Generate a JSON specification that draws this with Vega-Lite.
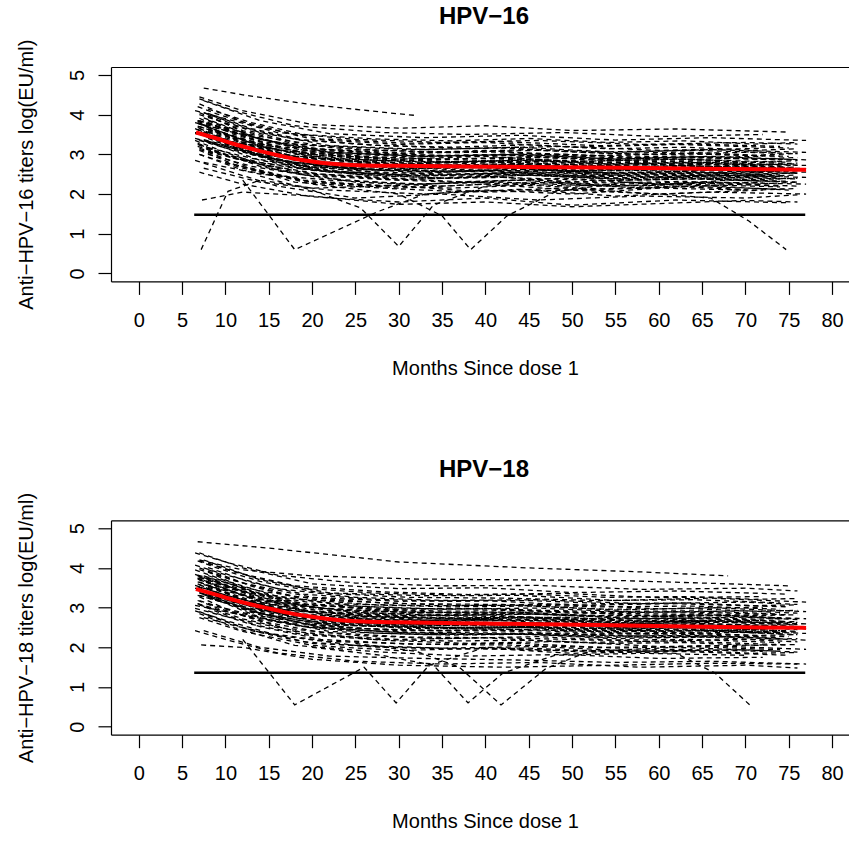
{
"$schema": "https://vega.github.io/schema/vega-lite/v6.json",
"background": "white",
"padding": {"left": 15, "top": 5, "right": 0, "bottom": 0},
"config": {"view": {"stroke": null}, "font": "Liberation Sans",
 "axis": {"domainColor": "black", "tickColor": "black", "labelColor": "black", "titleColor": "black", "grid": false, "labelFontSize": 20, "titleFontSize": 20, "titleFontWeight": "normal", "tickSize": 13, "domainWidth": 1.2, "tickWidth": 1.2, "labelFont": "Liberation Sans", "titleFont": "Liberation Sans", "labelFlush": false, "labelOverlap": false},
 "title": {"fontSize": 24, "font": "Liberation Sans", "fontWeight": "bold", "color": "black", "baseline": "alphabetic", "offset": 10, "dx": 4}},
"datasets": {
"s16": [
{"s":1,"t":7,"y":2.55},{"s":1,"t":12,"y":2.25},{"s":1,"t":20,"y":1.93},{"s":1,"t":30,"y":1.8},{"s":1,"t":40,"y":1.9},{"s":1,"t":50,"y":1.72},{"s":1,"t":62,"y":1.85},{"s":1,"t":75,"y":1.78},
{"s":2,"t":6.5,"y":2.85},{"s":2,"t":10,"y":2.6},{"s":2,"t":16,"y":2.2},{"s":2,"t":25,"y":1.9},{"s":2,"t":35,"y":2.0},{"s":2,"t":46,"y":1.85},{"s":2,"t":58,"y":1.95},{"s":2,"t":70,"y":1.9},{"s":2,"t":76,"y":1.98},
{"s":3,"t":7.5,"y":2.65},{"s":3,"t":14,"y":2.3},{"s":3,"t":22,"y":2.1},{"s":3,"t":33,"y":2.0},{"s":3,"t":44,"y":2.12},{"s":3,"t":55,"y":1.95},{"s":3,"t":66,"y":2.05},{"s":3,"t":77,"y":2.0},
{"s":4,"t":7,"y":3.1},{"s":4,"t":11,"y":2.75},{"s":4,"t":18,"y":2.3},{"s":4,"t":28,"y":2.15},{"s":4,"t":38,"y":2.05},{"s":4,"t":49,"y":2.15},{"s":4,"t":60,"y":2.0},{"s":4,"t":72,"y":2.1},
{"s":5,"t":7,"y":3.0},{"s":5,"t":12,"y":2.65},{"s":5,"t":20,"y":2.3},{"s":5,"t":30,"y":2.15},{"s":5,"t":40,"y":2.25},{"s":5,"t":50,"y":2.1},{"s":5,"t":62,"y":2.2},{"s":5,"t":75,"y":2.12},
{"s":6,"t":6.5,"y":3.35},{"s":6,"t":10,"y":3.05},{"s":6,"t":16,"y":2.6},{"s":6,"t":25,"y":2.3},{"s":6,"t":35,"y":2.2},{"s":6,"t":46,"y":2.3},{"s":6,"t":58,"y":2.15},{"s":6,"t":70,"y":2.25},{"s":6,"t":76,"y":2.2},
{"s":7,"t":7.5,"y":2.8},{"s":7,"t":14,"y":2.5},{"s":7,"t":22,"y":2.35},{"s":7,"t":33,"y":2.25},{"s":7,"t":44,"y":2.35},{"s":7,"t":55,"y":2.2},{"s":7,"t":66,"y":2.3},{"s":7,"t":77,"y":2.25},
{"s":8,"t":7,"y":3.25},{"s":8,"t":11,"y":2.9},{"s":8,"t":18,"y":2.55},{"s":8,"t":28,"y":2.4},{"s":8,"t":38,"y":2.3},{"s":8,"t":49,"y":2.4},{"s":8,"t":60,"y":2.25},{"s":8,"t":72,"y":2.3},
{"s":9,"t":7,"y":3.15},{"s":9,"t":12,"y":2.85},{"s":9,"t":20,"y":2.5},{"s":9,"t":30,"y":2.35},{"s":9,"t":40,"y":2.45},{"s":9,"t":50,"y":2.3},{"s":9,"t":62,"y":2.4},{"s":9,"t":75,"y":2.32},
{"s":10,"t":6.5,"y":3.65},{"s":10,"t":10,"y":3.3},{"s":10,"t":16,"y":2.8},{"s":10,"t":25,"y":2.5},{"s":10,"t":35,"y":2.4},{"s":10,"t":46,"y":2.48},{"s":10,"t":58,"y":2.35},{"s":10,"t":70,"y":2.42},{"s":10,"t":76,"y":2.38},
{"s":11,"t":7.5,"y":3.35},{"s":11,"t":14,"y":2.85},{"s":11,"t":22,"y":2.55},{"s":11,"t":33,"y":2.45},{"s":11,"t":44,"y":2.55},{"s":11,"t":55,"y":2.4},{"s":11,"t":66,"y":2.48},{"s":11,"t":77,"y":2.42},
{"s":12,"t":7,"y":3.12},{"s":12,"t":11,"y":2.9},{"s":12,"t":18,"y":2.65},{"s":12,"t":28,"y":2.5},{"s":12,"t":38,"y":2.45},{"s":12,"t":49,"y":2.55},{"s":12,"t":60,"y":2.42},{"s":12,"t":72,"y":2.48},
{"s":13,"t":7,"y":3.55},{"s":13,"t":12,"y":3.1},{"s":13,"t":20,"y":2.68},{"s":13,"t":30,"y":2.5},{"s":13,"t":40,"y":2.6},{"s":13,"t":50,"y":2.45},{"s":13,"t":62,"y":2.52},{"s":13,"t":75,"y":2.45},
{"s":14,"t":6.5,"y":3.4},{"s":14,"t":10,"y":3.2},{"s":14,"t":16,"y":2.85},{"s":14,"t":25,"y":2.62},{"s":14,"t":35,"y":2.55},{"s":14,"t":46,"y":2.6},{"s":14,"t":58,"y":2.5},{"s":14,"t":70,"y":2.55},{"s":14,"t":76,"y":2.52},
{"s":15,"t":7.5,"y":3.57},{"s":15,"t":14,"y":3.05},{"s":15,"t":22,"y":2.7},{"s":15,"t":33,"y":2.6},{"s":15,"t":44,"y":2.65},{"s":15,"t":55,"y":2.52},{"s":15,"t":66,"y":2.6},{"s":15,"t":77,"y":2.55},
{"s":16,"t":7,"y":3.35},{"s":16,"t":11,"y":3.1},{"s":16,"t":18,"y":2.8},{"s":16,"t":28,"y":2.6},{"s":16,"t":38,"y":2.7},{"s":16,"t":49,"y":2.58},{"s":16,"t":60,"y":2.62},{"s":16,"t":72,"y":2.55},
{"s":17,"t":7,"y":3.78},{"s":17,"t":12,"y":3.3},{"s":17,"t":20,"y":2.82},{"s":17,"t":30,"y":2.65},{"s":17,"t":40,"y":2.72},{"s":17,"t":50,"y":2.6},{"s":17,"t":62,"y":2.65},{"s":17,"t":75,"y":2.58},
{"s":18,"t":6.5,"y":3.55},{"s":18,"t":10,"y":3.3},{"s":18,"t":16,"y":2.95},{"s":18,"t":25,"y":2.72},{"s":18,"t":35,"y":2.65},{"s":18,"t":46,"y":2.72},{"s":18,"t":58,"y":2.6},{"s":18,"t":70,"y":2.66},{"s":18,"t":76,"y":2.62},
{"s":19,"t":7.5,"y":3.37},{"s":19,"t":14,"y":3.0},{"s":19,"t":22,"y":2.78},{"s":19,"t":33,"y":2.7},{"s":19,"t":44,"y":2.75},{"s":19,"t":55,"y":2.62},{"s":19,"t":66,"y":2.7},{"s":19,"t":77,"y":2.64},
{"s":20,"t":7,"y":3.65},{"s":20,"t":11,"y":3.3},{"s":20,"t":18,"y":2.95},{"s":20,"t":28,"y":2.78},{"s":20,"t":38,"y":2.7},{"s":20,"t":49,"y":2.75},{"s":20,"t":60,"y":2.65},{"s":20,"t":72,"y":2.7},
{"s":21,"t":7,"y":3.78},{"s":21,"t":12,"y":3.35},{"s":21,"t":20,"y":2.9},{"s":21,"t":30,"y":2.75},{"s":21,"t":40,"y":2.82},{"s":21,"t":50,"y":2.7},{"s":21,"t":62,"y":2.76},{"s":21,"t":75,"y":2.68},
{"s":22,"t":6.5,"y":3.55},{"s":22,"t":10,"y":3.35},{"s":22,"t":16,"y":3.0},{"s":22,"t":25,"y":2.82},{"s":22,"t":35,"y":2.75},{"s":22,"t":46,"y":2.82},{"s":22,"t":58,"y":2.7},{"s":22,"t":70,"y":2.75},{"s":22,"t":76,"y":2.72},
{"s":23,"t":7.5,"y":3.73},{"s":23,"t":14,"y":3.2},{"s":23,"t":22,"y":2.9},{"s":23,"t":33,"y":2.8},{"s":23,"t":44,"y":2.85},{"s":23,"t":55,"y":2.75},{"s":23,"t":66,"y":2.8},{"s":23,"t":77,"y":2.72},
{"s":24,"t":7,"y":3.91},{"s":24,"t":11,"y":3.5},{"s":24,"t":18,"y":3.08},{"s":24,"t":28,"y":2.88},{"s":24,"t":38,"y":2.8},{"s":24,"t":49,"y":2.85},{"s":24,"t":60,"y":2.75},{"s":24,"t":72,"y":2.8},
{"s":25,"t":7,"y":3.7},{"s":25,"t":12,"y":3.35},{"s":25,"t":20,"y":3.0},{"s":25,"t":30,"y":2.88},{"s":25,"t":40,"y":2.95},{"s":25,"t":50,"y":2.82},{"s":25,"t":62,"y":2.88},{"s":25,"t":75,"y":2.8},
{"s":26,"t":6.5,"y":3.53},{"s":26,"t":10,"y":3.35},{"s":26,"t":16,"y":3.1},{"s":26,"t":25,"y":2.95},{"s":26,"t":35,"y":2.88},{"s":26,"t":46,"y":2.92},{"s":26,"t":58,"y":2.85},{"s":26,"t":70,"y":2.9},{"s":26,"t":76,"y":2.86},
{"s":27,"t":7.5,"y":3.92},{"s":27,"t":14,"y":3.38},{"s":27,"t":22,"y":3.05},{"s":27,"t":33,"y":2.95},{"s":27,"t":44,"y":3.0},{"s":27,"t":55,"y":2.88},{"s":27,"t":66,"y":2.95},{"s":27,"t":77,"y":2.86},
{"s":28,"t":7,"y":3.85},{"s":28,"t":11,"y":3.55},{"s":28,"t":18,"y":3.18},{"s":28,"t":28,"y":3.02},{"s":28,"t":38,"y":2.95},{"s":28,"t":49,"y":3.0},{"s":28,"t":60,"y":2.9},{"s":28,"t":72,"y":2.95},
{"s":29,"t":7,"y":4.05},{"s":29,"t":12,"y":3.6},{"s":29,"t":20,"y":3.15},{"s":29,"t":30,"y":3.02},{"s":29,"t":40,"y":3.1},{"s":29,"t":50,"y":2.95},{"s":29,"t":62,"y":3.02},{"s":29,"t":75,"y":2.95},
{"s":30,"t":6.5,"y":3.8},{"s":30,"t":10,"y":3.6},{"s":30,"t":16,"y":3.3},{"s":30,"t":25,"y":3.12},{"s":30,"t":35,"y":3.05},{"s":30,"t":46,"y":3.1},{"s":30,"t":58,"y":3.0},{"s":30,"t":70,"y":3.05},{"s":30,"t":76,"y":3.02},
{"s":31,"t":7.5,"y":4.05},{"s":31,"t":14,"y":3.55},{"s":31,"t":22,"y":3.22},{"s":31,"t":33,"y":3.12},{"s":31,"t":44,"y":3.18},{"s":31,"t":55,"y":3.05},{"s":31,"t":66,"y":3.12},{"s":31,"t":77,"y":3.05},
{"s":32,"t":7,"y":4.0},{"s":32,"t":11,"y":3.72},{"s":32,"t":18,"y":3.38},{"s":32,"t":28,"y":3.22},{"s":32,"t":38,"y":3.15},{"s":32,"t":49,"y":3.2},{"s":32,"t":60,"y":3.1},{"s":32,"t":72,"y":3.15},
{"s":33,"t":7,"y":4.27},{"s":33,"t":12,"y":3.82},{"s":33,"t":20,"y":3.38},{"s":33,"t":30,"y":3.25},{"s":33,"t":40,"y":3.3},{"s":33,"t":50,"y":3.18},{"s":33,"t":62,"y":3.25},{"s":33,"t":75,"y":3.16},
{"s":34,"t":6.5,"y":4.1},{"s":34,"t":10,"y":3.9},{"s":34,"t":16,"y":3.55},{"s":34,"t":25,"y":3.38},{"s":34,"t":35,"y":3.3},{"s":34,"t":46,"y":3.35},{"s":34,"t":58,"y":3.25},{"s":34,"t":70,"y":3.3},{"s":34,"t":76,"y":3.26},
{"s":35,"t":7.5,"y":4.35},{"s":35,"t":14,"y":3.85},{"s":35,"t":22,"y":3.52},{"s":35,"t":33,"y":3.42},{"s":35,"t":44,"y":3.48},{"s":35,"t":55,"y":3.36},{"s":35,"t":66,"y":3.42},{"s":35,"t":77,"y":3.35},
{"s":36,"t":7,"y":4.4},{"s":36,"t":11,"y":4.1},{"s":36,"t":18,"y":3.72},{"s":36,"t":28,"y":3.55},{"s":36,"t":38,"y":3.5},{"s":36,"t":49,"y":3.55},{"s":36,"t":60,"y":3.45},{"s":36,"t":72,"y":3.5},
{"s":37,"t":7,"y":4.45},{"s":37,"t":12,"y":4.1},{"s":37,"t":20,"y":3.75},{"s":37,"t":30,"y":3.66},{"s":37,"t":40,"y":3.72},{"s":37,"t":50,"y":3.6},{"s":37,"t":62,"y":3.64},{"s":37,"t":75,"y":3.56},
{"s":38,"t":7.5,"y":4.67},{"s":38,"t":12,"y":4.5},{"s":38,"t":20,"y":4.25},{"s":38,"t":30,"y":4.02},{"s":38,"t":32,"y":3.98},
{"s":39,"t":7.2,"y":0.6},{"s":39,"t":10.3,"y":2.07},{"s":39,"t":14,"y":2.35},{"s":39,"t":20,"y":2.15},{"s":39,"t":28,"y":2.2},{"s":39,"t":38,"y":2.3},{"s":39,"t":50,"y":2.2},{"s":39,"t":62,"y":2.3},{"s":39,"t":74,"y":2.2},
{"s":40,"t":12,"y":2.35},{"s":40,"t":18,"y":0.6},{"s":40,"t":27.5,"y":1.55},{"s":40,"t":33,"y":2.0},{"s":40,"t":40,"y":2.1},{"s":40,"t":50,"y":2.0},{"s":40,"t":60,"y":2.15},{"s":40,"t":70,"y":2.1},
{"s":41,"t":14,"y":2.45},{"s":41,"t":20,"y":2.1},{"s":41,"t":25.6,"y":1.65},{"s":41,"t":30,"y":0.68},{"s":41,"t":34,"y":1.72},{"s":41,"t":40,"y":2.2},{"s":41,"t":48,"y":2.3},{"s":41,"t":58,"y":2.2},{"s":41,"t":68,"y":2.35},{"s":41,"t":76,"y":2.3},
{"s":42,"t":10,"y":2.8},{"s":42,"t":20,"y":2.25},{"s":42,"t":30,"y":2.0},{"s":42,"t":35,"y":1.45},{"s":42,"t":38.3,"y":0.6},{"s":42,"t":42.5,"y":1.45},{"s":42,"t":48,"y":2.05},{"s":42,"t":56,"y":2.3},{"s":42,"t":66,"y":2.2},{"s":42,"t":75,"y":2.1},
{"s":43,"t":7,"y":3.0},{"s":43,"t":12,"y":2.6},{"s":43,"t":20,"y":2.3},{"s":43,"t":30,"y":2.2},{"s":43,"t":40,"y":2.05},{"s":43,"t":50,"y":2.1},{"s":43,"t":60,"y":2.0},{"s":43,"t":66,"y":1.9},{"s":43,"t":70.4,"y":1.32},{"s":43,"t":74.7,"y":0.6},
{"s":44,"t":7.3,"y":1.85},{"s":44,"t":12,"y":2.05},{"s":44,"t":20,"y":1.95},{"s":44,"t":30,"y":1.74},{"s":44,"t":40,"y":1.8},{"s":44,"t":50,"y":1.68},{"s":44,"t":60,"y":1.76},{"s":44,"t":70,"y":1.84},{"s":44,"t":76,"y":1.8},
{"s":45,"t":8,"y":3.05},{"s":45,"t":13,"y":2.65},{"s":45,"t":19,"y":2.35},{"s":45,"t":27,"y":2.22},{"s":45,"t":36,"y":2.15},{"s":45,"t":45,"y":2.22},{"s":45,"t":54,"y":2.12},{"s":45,"t":63,"y":2.18},{"s":45,"t":71,"y":2.1},{"s":45,"t":76,"y":2.14},
{"s":46,"t":6.8,"y":3.28},{"s":46,"t":9,"y":3.08},{"s":46,"t":14,"y":2.7},{"s":46,"t":21,"y":2.4},{"s":46,"t":31,"y":2.25},{"s":46,"t":42,"y":2.3},{"s":46,"t":53,"y":2.2},{"s":46,"t":64,"y":2.24},{"s":46,"t":74,"y":2.18},
{"s":47,"t":8,"y":3.0},{"s":47,"t":13,"y":2.7},{"s":47,"t":19,"y":2.48},{"s":47,"t":27,"y":2.38},{"s":47,"t":36,"y":2.3},{"s":47,"t":45,"y":2.36},{"s":47,"t":54,"y":2.28},{"s":47,"t":63,"y":2.32},{"s":47,"t":71,"y":2.25},{"s":47,"t":76,"y":2.3},
{"s":48,"t":6.8,"y":3.25},{"s":48,"t":9,"y":3.05},{"s":48,"t":14,"y":2.75},{"s":48,"t":21,"y":2.5},{"s":48,"t":31,"y":2.38},{"s":48,"t":42,"y":2.42},{"s":48,"t":53,"y":2.34},{"s":48,"t":64,"y":2.38},{"s":48,"t":74,"y":2.32},
{"s":49,"t":8,"y":3.45},{"s":49,"t":13,"y":3.0},{"s":49,"t":19,"y":2.62},{"s":49,"t":27,"y":2.46},{"s":49,"t":36,"y":2.4},{"s":49,"t":45,"y":2.48},{"s":49,"t":54,"y":2.38},{"s":49,"t":63,"y":2.42},{"s":49,"t":71,"y":2.36},{"s":49,"t":76,"y":2.4},
{"s":50,"t":6.8,"y":3.2},{"s":50,"t":9,"y":3.05},{"s":50,"t":14,"y":2.8},{"s":50,"t":21,"y":2.58},{"s":50,"t":31,"y":2.48},{"s":50,"t":42,"y":2.52},{"s":50,"t":53,"y":2.44},{"s":50,"t":64,"y":2.47},{"s":50,"t":74,"y":2.42},
{"s":51,"t":8,"y":3.4},{"s":51,"t":13,"y":3.0},{"s":51,"t":19,"y":2.7},{"s":51,"t":27,"y":2.56},{"s":51,"t":36,"y":2.5},{"s":51,"t":45,"y":2.56},{"s":51,"t":54,"y":2.46},{"s":51,"t":63,"y":2.5},{"s":51,"t":71,"y":2.44},{"s":51,"t":76,"y":2.48},
{"s":52,"t":6.8,"y":3.68},{"s":52,"t":9,"y":3.45},{"s":52,"t":14,"y":3.05},{"s":52,"t":21,"y":2.7},{"s":52,"t":31,"y":2.56},{"s":52,"t":42,"y":2.6},{"s":52,"t":53,"y":2.5},{"s":52,"t":64,"y":2.54},{"s":52,"t":74,"y":2.48},
{"s":53,"t":8,"y":3.33},{"s":53,"t":13,"y":3.0},{"s":53,"t":19,"y":2.74},{"s":53,"t":27,"y":2.62},{"s":53,"t":36,"y":2.58},{"s":53,"t":45,"y":2.63},{"s":53,"t":54,"y":2.54},{"s":53,"t":63,"y":2.57},{"s":53,"t":71,"y":2.5},{"s":53,"t":76,"y":2.54},
{"s":54,"t":6.8,"y":3.56},{"s":54,"t":9,"y":3.38},{"s":54,"t":14,"y":3.04},{"s":54,"t":21,"y":2.75},{"s":54,"t":31,"y":2.64},{"s":54,"t":42,"y":2.68},{"s":54,"t":53,"y":2.58},{"s":54,"t":64,"y":2.62},{"s":54,"t":74,"y":2.56},
{"s":55,"t":8,"y":3.65},{"s":55,"t":13,"y":3.2},{"s":55,"t":19,"y":2.86},{"s":55,"t":27,"y":2.7},{"s":55,"t":36,"y":2.66},{"s":55,"t":45,"y":2.72},{"s":55,"t":54,"y":2.62},{"s":55,"t":63,"y":2.66},{"s":55,"t":71,"y":2.58},{"s":55,"t":76,"y":2.62},
{"s":56,"t":6.8,"y":3.38},{"s":56,"t":9,"y":3.25},{"s":56,"t":14,"y":3.0},{"s":56,"t":21,"y":2.8},{"s":56,"t":31,"y":2.72},{"s":56,"t":42,"y":2.75},{"s":56,"t":53,"y":2.66},{"s":56,"t":64,"y":2.7},{"s":56,"t":74,"y":2.64},
{"s":57,"t":8,"y":3.57},{"s":57,"t":13,"y":3.2},{"s":57,"t":19,"y":2.9},{"s":57,"t":27,"y":2.77},{"s":57,"t":36,"y":2.72},{"s":57,"t":45,"y":2.78},{"s":57,"t":54,"y":2.68},{"s":57,"t":63,"y":2.72},{"s":57,"t":71,"y":2.65},{"s":57,"t":76,"y":2.68},
{"s":58,"t":6.8,"y":3.8},{"s":58,"t":9,"y":3.6},{"s":58,"t":14,"y":3.22},{"s":58,"t":21,"y":2.9},{"s":58,"t":31,"y":2.78},{"s":58,"t":42,"y":2.82},{"s":58,"t":53,"y":2.72},{"s":58,"t":64,"y":2.76},{"s":58,"t":74,"y":2.7},
{"s":59,"t":8,"y":3.6},{"s":59,"t":13,"y":3.25},{"s":59,"t":19,"y":2.97},{"s":59,"t":27,"y":2.85},{"s":59,"t":36,"y":2.8},{"s":59,"t":45,"y":2.86},{"s":59,"t":54,"y":2.76},{"s":59,"t":63,"y":2.8},{"s":59,"t":71,"y":2.73},{"s":59,"t":76,"y":2.76},
{"s":60,"t":6.8,"y":3.78},{"s":60,"t":9,"y":3.6},{"s":60,"t":14,"y":3.26},{"s":60,"t":21,"y":2.97},{"s":60,"t":31,"y":2.86},{"s":60,"t":42,"y":2.9},{"s":60,"t":53,"y":2.8},{"s":60,"t":64,"y":2.84},{"s":60,"t":74,"y":2.78},
{"s":61,"t":8,"y":3.97},{"s":61,"t":13,"y":3.47},{"s":61,"t":19,"y":3.1},{"s":61,"t":27,"y":2.93},{"s":61,"t":36,"y":2.88},{"s":61,"t":45,"y":2.94},{"s":61,"t":54,"y":2.84},{"s":61,"t":63,"y":2.88},{"s":61,"t":71,"y":2.8},{"s":61,"t":76,"y":2.84},
{"s":62,"t":6.8,"y":3.71},{"s":62,"t":9,"y":3.56},{"s":62,"t":14,"y":3.28},{"s":62,"t":21,"y":3.04},{"s":62,"t":31,"y":2.94},{"s":62,"t":42,"y":2.98},{"s":62,"t":53,"y":2.88},{"s":62,"t":64,"y":2.92},{"s":62,"t":74,"y":2.86},
{"s":63,"t":8,"y":3.86},{"s":63,"t":13,"y":3.45},{"s":63,"t":19,"y":3.14},{"s":63,"t":27,"y":3.01},{"s":63,"t":36,"y":2.96},{"s":63,"t":45,"y":3.02},{"s":63,"t":54,"y":2.92},{"s":63,"t":63,"y":2.96},{"s":63,"t":71,"y":2.88},{"s":63,"t":76,"y":2.92},
{"s":64,"t":6.8,"y":3.85},{"s":64,"t":9,"y":3.7},{"s":64,"t":14,"y":3.38},{"s":64,"t":21,"y":3.13},{"s":64,"t":31,"y":3.03},{"s":64,"t":42,"y":3.06},{"s":64,"t":53,"y":2.97},{"s":64,"t":64,"y":3.01},{"s":64,"t":74,"y":2.95},
{"s":65,"t":8,"y":4.0},{"s":65,"t":13,"y":3.58},{"s":65,"t":19,"y":3.25},{"s":65,"t":27,"y":3.11},{"s":65,"t":36,"y":3.06},{"s":65,"t":45,"y":3.12},{"s":65,"t":54,"y":3.02},{"s":65,"t":63,"y":3.06},{"s":65,"t":71,"y":2.98},{"s":65,"t":76,"y":3.02},
{"s":66,"t":6.8,"y":3.85},{"s":66,"t":9,"y":3.72},{"s":66,"t":14,"y":3.45},{"s":66,"t":21,"y":3.22},{"s":66,"t":31,"y":3.12},{"s":66,"t":42,"y":3.16},{"s":66,"t":53,"y":3.06},{"s":66,"t":64,"y":3.1},{"s":66,"t":74,"y":3.04},
{"s":67,"t":8,"y":4.03},{"s":67,"t":13,"y":3.65},{"s":67,"t":19,"y":3.36},{"s":67,"t":27,"y":3.23},{"s":67,"t":36,"y":3.18},{"s":67,"t":45,"y":3.24},{"s":67,"t":54,"y":3.14},{"s":67,"t":63,"y":3.18},{"s":67,"t":71,"y":3.1},{"s":67,"t":76,"y":3.14},
{"s":68,"t":6.8,"y":4.2},{"s":68,"t":9,"y":4.02},{"s":68,"t":14,"y":3.68},{"s":68,"t":21,"y":3.39},{"s":68,"t":31,"y":3.28},{"s":68,"t":42,"y":3.32},{"s":68,"t":53,"y":3.22},{"s":68,"t":64,"y":3.26},{"s":68,"t":74,"y":3.2},
{"s":69,"t":8,"y":4.14},{"s":69,"t":13,"y":3.8},{"s":69,"t":19,"y":3.5},{"s":69,"t":27,"y":3.39},{"s":69,"t":36,"y":3.34},{"s":69,"t":45,"y":3.4},{"s":69,"t":54,"y":3.3},{"s":69,"t":63,"y":3.34},{"s":69,"t":71,"y":3.26},{"s":69,"t":76,"y":3.3},
{"s":70,"t":6.8,"y":3.63},{"s":70,"t":9,"y":3.4},{"s":70,"t":14,"y":2.98},{"s":70,"t":21,"y":2.6},{"s":70,"t":31,"y":2.46},{"s":70,"t":42,"y":2.5},{"s":70,"t":53,"y":2.4},{"s":70,"t":64,"y":2.44},{"s":70,"t":74,"y":2.38},
{"s":71,"t":8,"y":3.17},{"s":71,"t":13,"y":2.9},{"s":71,"t":19,"y":2.7},{"s":71,"t":27,"y":2.61},{"s":71,"t":36,"y":2.56},{"s":71,"t":45,"y":2.62},{"s":71,"t":54,"y":2.52},{"s":71,"t":63,"y":2.56},{"s":71,"t":71,"y":2.5},{"s":71,"t":76,"y":2.53},
{"s":72,"t":6.8,"y":3.52},{"s":72,"t":9,"y":3.36},{"s":72,"t":14,"y":3.06},{"s":72,"t":21,"y":2.8},{"s":72,"t":31,"y":2.7},{"s":72,"t":42,"y":2.74},{"s":72,"t":53,"y":2.64},{"s":72,"t":64,"y":2.68},{"s":72,"t":74,"y":2.62},
{"s":73,"t":8,"y":3.85},{"s":73,"t":13,"y":3.38},{"s":73,"t":19,"y":3.02},{"s":73,"t":27,"y":2.86},{"s":73,"t":36,"y":2.82},{"s":73,"t":45,"y":2.88},{"s":73,"t":54,"y":2.78},{"s":73,"t":63,"y":2.82},{"s":73,"t":71,"y":2.74},{"s":73,"t":76,"y":2.78},
{"s":74,"t":6.8,"y":3.83},{"s":74,"t":9,"y":3.66},{"s":74,"t":14,"y":3.34},{"s":74,"t":21,"y":3.07},{"s":74,"t":31,"y":2.96},{"s":74,"t":42,"y":3.0},{"s":74,"t":53,"y":2.9},{"s":74,"t":64,"y":2.94},{"s":74,"t":74,"y":2.88}
],
"s18": [
{"s":1,"t":6.5,"y":2.42},{"s":1,"t":10,"y":2.2},{"s":1,"t":16,"y":1.86},{"s":1,"t":25,"y":1.65},{"s":1,"t":35,"y":1.58},{"s":1,"t":46,"y":1.62},{"s":1,"t":58,"y":1.5},{"s":1,"t":70,"y":1.55},{"s":1,"t":76,"y":1.48},
{"s":2,"t":7.5,"y":2.42},{"s":2,"t":14,"y":2.0},{"s":2,"t":22,"y":1.78},{"s":2,"t":33,"y":1.72},{"s":2,"t":44,"y":1.68},{"s":2,"t":55,"y":1.62},{"s":2,"t":66,"y":1.65},{"s":2,"t":77,"y":1.58},
{"s":3,"t":7,"y":2.85},{"s":3,"t":11,"y":2.5},{"s":3,"t":18,"y":2.05},{"s":3,"t":28,"y":1.88},{"s":3,"t":38,"y":1.78},{"s":3,"t":49,"y":1.82},{"s":3,"t":60,"y":1.72},{"s":3,"t":72,"y":1.75},
{"s":4,"t":7,"y":2.75},{"s":4,"t":12,"y":2.4},{"s":4,"t":20,"y":2.05},{"s":4,"t":30,"y":1.92},{"s":4,"t":40,"y":1.98},{"s":4,"t":50,"y":1.85},{"s":4,"t":62,"y":1.9},{"s":4,"t":75,"y":1.8},
{"s":5,"t":6.5,"y":2.92},{"s":5,"t":10,"y":2.68},{"s":5,"t":16,"y":2.3},{"s":5,"t":25,"y":2.05},{"s":5,"t":35,"y":1.98},{"s":5,"t":46,"y":2.02},{"s":5,"t":58,"y":1.9},{"s":5,"t":70,"y":1.94},{"s":5,"t":76,"y":1.88},
{"s":6,"t":7.5,"y":2.75},{"s":6,"t":14,"y":2.38},{"s":6,"t":22,"y":2.15},{"s":6,"t":33,"y":2.08},{"s":6,"t":44,"y":2.1},{"s":6,"t":55,"y":1.98},{"s":6,"t":66,"y":2.04},{"s":6,"t":77,"y":1.95},
{"s":7,"t":7,"y":3.27},{"s":7,"t":11,"y":2.88},{"s":7,"t":18,"y":2.4},{"s":7,"t":28,"y":2.18},{"s":7,"t":38,"y":2.1},{"s":7,"t":49,"y":2.15},{"s":7,"t":60,"y":2.02},{"s":7,"t":72,"y":2.06},
{"s":8,"t":7,"y":3.07},{"s":8,"t":12,"y":2.72},{"s":8,"t":20,"y":2.32},{"s":8,"t":30,"y":2.2},{"s":8,"t":40,"y":2.24},{"s":8,"t":50,"y":2.12},{"s":8,"t":62,"y":2.16},{"s":8,"t":75,"y":2.06},
{"s":9,"t":6.5,"y":2.98},{"s":9,"t":10,"y":2.78},{"s":9,"t":16,"y":2.5},{"s":9,"t":25,"y":2.3},{"s":9,"t":35,"y":2.22},{"s":9,"t":46,"y":2.27},{"s":9,"t":58,"y":2.15},{"s":9,"t":70,"y":2.2},{"s":9,"t":76,"y":2.14},
{"s":10,"t":7.5,"y":3.33},{"s":10,"t":14,"y":2.75},{"s":10,"t":22,"y":2.4},{"s":10,"t":33,"y":2.32},{"s":10,"t":44,"y":2.34},{"s":10,"t":55,"y":2.22},{"s":10,"t":66,"y":2.28},{"s":10,"t":77,"y":2.18},
{"s":11,"t":7,"y":3.18},{"s":11,"t":11,"y":2.9},{"s":11,"t":18,"y":2.55},{"s":11,"t":28,"y":2.4},{"s":11,"t":38,"y":2.32},{"s":11,"t":49,"y":2.36},{"s":11,"t":60,"y":2.24},{"s":11,"t":72,"y":2.28},
{"s":12,"t":7,"y":3.37},{"s":12,"t":12,"y":2.96},{"s":12,"t":20,"y":2.55},{"s":12,"t":30,"y":2.42},{"s":12,"t":40,"y":2.44},{"s":12,"t":50,"y":2.32},{"s":12,"t":62,"y":2.36},{"s":12,"t":75,"y":2.27},
{"s":13,"t":6.5,"y":3.06},{"s":13,"t":10,"y":2.9},{"s":13,"t":16,"y":2.65},{"s":13,"t":25,"y":2.48},{"s":13,"t":35,"y":2.42},{"s":13,"t":46,"y":2.46},{"s":13,"t":58,"y":2.34},{"s":13,"t":70,"y":2.38},{"s":13,"t":76,"y":2.32},
{"s":14,"t":7.5,"y":3.35},{"s":14,"t":14,"y":2.85},{"s":14,"t":22,"y":2.56},{"s":14,"t":33,"y":2.5},{"s":14,"t":44,"y":2.51},{"s":14,"t":55,"y":2.39},{"s":14,"t":66,"y":2.44},{"s":14,"t":77,"y":2.35},
{"s":15,"t":7,"y":3.58},{"s":15,"t":11,"y":3.2},{"s":15,"t":18,"y":2.75},{"s":15,"t":28,"y":2.55},{"s":15,"t":38,"y":2.48},{"s":15,"t":49,"y":2.52},{"s":15,"t":60,"y":2.4},{"s":15,"t":72,"y":2.44},
{"s":16,"t":7,"y":3.31},{"s":16,"t":12,"y":3.0},{"s":16,"t":20,"y":2.66},{"s":16,"t":30,"y":2.56},{"s":16,"t":40,"y":2.58},{"s":16,"t":50,"y":2.47},{"s":16,"t":62,"y":2.5},{"s":16,"t":75,"y":2.42},
{"s":17,"t":6.5,"y":3.49},{"s":17,"t":10,"y":3.25},{"s":17,"t":16,"y":2.87},{"s":17,"t":25,"y":2.63},{"s":17,"t":35,"y":2.55},{"s":17,"t":46,"y":2.58},{"s":17,"t":58,"y":2.47},{"s":17,"t":70,"y":2.52},{"s":17,"t":76,"y":2.45},
{"s":18,"t":7.5,"y":3.42},{"s":18,"t":14,"y":2.95},{"s":18,"t":22,"y":2.68},{"s":18,"t":33,"y":2.62},{"s":18,"t":44,"y":2.63},{"s":18,"t":55,"y":2.5},{"s":18,"t":66,"y":2.56},{"s":18,"t":77,"y":2.47},
{"s":19,"t":7,"y":3.65},{"s":19,"t":11,"y":3.28},{"s":19,"t":18,"y":2.85},{"s":19,"t":28,"y":2.67},{"s":19,"t":38,"y":2.6},{"s":19,"t":49,"y":2.64},{"s":19,"t":60,"y":2.52},{"s":19,"t":72,"y":2.56},
{"s":20,"t":7,"y":3.38},{"s":20,"t":12,"y":3.08},{"s":20,"t":20,"y":2.76},{"s":20,"t":30,"y":2.68},{"s":20,"t":40,"y":2.7},{"s":20,"t":50,"y":2.58},{"s":20,"t":62,"y":2.62},{"s":20,"t":75,"y":2.54},
{"s":21,"t":6.5,"y":3.56},{"s":21,"t":10,"y":3.32},{"s":21,"t":16,"y":2.97},{"s":21,"t":25,"y":2.75},{"s":21,"t":35,"y":2.67},{"s":21,"t":46,"y":2.7},{"s":21,"t":58,"y":2.6},{"s":21,"t":70,"y":2.64},{"s":21,"t":76,"y":2.57},
{"s":22,"t":7.5,"y":3.69},{"s":22,"t":14,"y":3.14},{"s":22,"t":22,"y":2.8},{"s":22,"t":33,"y":2.74},{"s":22,"t":44,"y":2.75},{"s":22,"t":55,"y":2.62},{"s":22,"t":66,"y":2.68},{"s":22,"t":77,"y":2.59},
{"s":23,"t":7,"y":3.52},{"s":23,"t":11,"y":3.25},{"s":23,"t":18,"y":2.92},{"s":23,"t":28,"y":2.79},{"s":23,"t":38,"y":2.72},{"s":23,"t":49,"y":2.76},{"s":23,"t":60,"y":2.64},{"s":23,"t":72,"y":2.68},
{"s":24,"t":7,"y":3.7},{"s":24,"t":12,"y":3.32},{"s":24,"t":20,"y":2.9},{"s":24,"t":30,"y":2.8},{"s":24,"t":40,"y":2.82},{"s":24,"t":50,"y":2.7},{"s":24,"t":62,"y":2.74},{"s":24,"t":75,"y":2.65},
{"s":25,"t":6.5,"y":3.84},{"s":25,"t":10,"y":3.56},{"s":25,"t":16,"y":3.14},{"s":25,"t":25,"y":2.88},{"s":25,"t":35,"y":2.8},{"s":25,"t":46,"y":2.84},{"s":25,"t":58,"y":2.72},{"s":25,"t":70,"y":2.76},{"s":25,"t":76,"y":2.7},
{"s":26,"t":7.5,"y":3.58},{"s":26,"t":14,"y":3.18},{"s":26,"t":22,"y":2.93},{"s":26,"t":33,"y":2.88},{"s":26,"t":44,"y":2.89},{"s":26,"t":55,"y":2.76},{"s":26,"t":66,"y":2.82},{"s":26,"t":77,"y":2.72},
{"s":27,"t":7,"y":3.77},{"s":27,"t":11,"y":3.46},{"s":27,"t":18,"y":3.1},{"s":27,"t":28,"y":2.94},{"s":27,"t":38,"y":2.86},{"s":27,"t":49,"y":2.9},{"s":27,"t":60,"y":2.78},{"s":27,"t":72,"y":2.82},
{"s":28,"t":7,"y":3.76},{"s":28,"t":12,"y":3.42},{"s":28,"t":20,"y":3.06},{"s":28,"t":30,"y":2.96},{"s":28,"t":40,"y":2.98},{"s":28,"t":50,"y":2.86},{"s":28,"t":62,"y":2.9},{"s":28,"t":75,"y":2.82},
{"s":29,"t":6.5,"y":3.95},{"s":29,"t":10,"y":3.68},{"s":29,"t":16,"y":3.28},{"s":29,"t":25,"y":3.04},{"s":29,"t":35,"y":2.96},{"s":29,"t":46,"y":2.99},{"s":29,"t":58,"y":2.88},{"s":29,"t":70,"y":2.92},{"s":29,"t":76,"y":2.86},
{"s":30,"t":7.5,"y":3.8},{"s":30,"t":14,"y":3.36},{"s":30,"t":22,"y":3.1},{"s":30,"t":33,"y":3.05},{"s":30,"t":44,"y":3.06},{"s":30,"t":55,"y":2.94},{"s":30,"t":66,"y":3.0},{"s":30,"t":77,"y":2.9},
{"s":31,"t":7,"y":4.0},{"s":31,"t":11,"y":3.68},{"s":31,"t":18,"y":3.28},{"s":31,"t":28,"y":3.12},{"s":31,"t":38,"y":3.05},{"s":31,"t":49,"y":3.09},{"s":31,"t":60,"y":2.97},{"s":31,"t":72,"y":3.01},
{"s":32,"t":7,"y":3.96},{"s":32,"t":12,"y":3.62},{"s":32,"t":20,"y":3.26},{"s":32,"t":30,"y":3.16},{"s":32,"t":40,"y":3.18},{"s":32,"t":50,"y":3.06},{"s":32,"t":62,"y":3.1},{"s":32,"t":75,"y":3.02},
{"s":33,"t":6.5,"y":4.07},{"s":33,"t":10,"y":3.83},{"s":33,"t":16,"y":3.48},{"s":33,"t":25,"y":3.26},{"s":33,"t":35,"y":3.18},{"s":33,"t":46,"y":3.2},{"s":33,"t":58,"y":3.1},{"s":33,"t":70,"y":3.14},{"s":33,"t":76,"y":3.08},
{"s":34,"t":7.5,"y":4.2},{"s":34,"t":14,"y":3.7},{"s":34,"t":22,"y":3.37},{"s":34,"t":33,"y":3.3},{"s":34,"t":44,"y":3.31},{"s":34,"t":55,"y":3.18},{"s":34,"t":66,"y":3.24},{"s":34,"t":77,"y":3.14},
{"s":35,"t":7,"y":4.18},{"s":35,"t":11,"y":3.9},{"s":35,"t":18,"y":3.55},{"s":35,"t":28,"y":3.4},{"s":35,"t":38,"y":3.33},{"s":35,"t":49,"y":3.36},{"s":35,"t":60,"y":3.25},{"s":35,"t":72,"y":3.28},
{"s":36,"t":7,"y":4.38},{"s":36,"t":12,"y":4.0},{"s":36,"t":20,"y":3.6},{"s":36,"t":30,"y":3.48},{"s":36,"t":40,"y":3.5},{"s":36,"t":50,"y":3.38},{"s":36,"t":62,"y":3.42},{"s":36,"t":75,"y":3.34},
{"s":37,"t":6.5,"y":4.38},{"s":37,"t":10,"y":4.15},{"s":37,"t":16,"y":3.82},{"s":37,"t":25,"y":3.62},{"s":37,"t":35,"y":3.55},{"s":37,"t":46,"y":3.56},{"s":37,"t":58,"y":3.46},{"s":37,"t":70,"y":3.49},{"s":37,"t":76,"y":3.42},
{"s":38,"t":6.8,"y":4.66},{"s":38,"t":15,"y":4.5},{"s":38,"t":30,"y":4.15},{"s":38,"t":45,"y":4.0},{"s":38,"t":58,"y":3.9},{"s":38,"t":68,"y":3.8},
{"s":39,"t":7,"y":4.2},{"s":39,"t":12,"y":3.95},{"s":39,"t":20,"y":3.8},{"s":39,"t":32,"y":3.72},{"s":39,"t":44,"y":3.7},{"s":39,"t":56,"y":3.68},{"s":39,"t":68,"y":3.6},{"s":39,"t":75,"y":3.55},
{"s":40,"t":12,"y":2.2},{"s":40,"t":18,"y":0.55},{"s":40,"t":26,"y":1.5},{"s":40,"t":29.7,"y":0.6},{"s":40,"t":33.5,"y":1.55},{"s":40,"t":40,"y":2.0},{"s":40,"t":50,"y":1.9},{"s":40,"t":62,"y":1.95},{"s":40,"t":72,"y":1.9},
{"s":41,"t":20,"y":2.0},{"s":41,"t":28,"y":1.8},{"s":41,"t":34,"y":1.55},{"s":41,"t":38,"y":0.6},{"s":41,"t":42,"y":1.35},{"s":41,"t":48,"y":1.8},{"s":41,"t":58,"y":1.85},{"s":41,"t":70,"y":1.8},
{"s":42,"t":25,"y":2.1},{"s":42,"t":32,"y":1.9},{"s":42,"t":37,"y":1.5},{"s":42,"t":41.8,"y":0.55},{"s":42,"t":47,"y":1.47},{"s":42,"t":52,"y":1.9},{"s":42,"t":62,"y":2.0},{"s":42,"t":74,"y":1.9},
{"s":43,"t":7,"y":2.9},{"s":43,"t":12,"y":2.5},{"s":43,"t":20,"y":2.1},{"s":43,"t":30,"y":2.0},{"s":43,"t":42,"y":1.95},{"s":43,"t":54,"y":1.9},{"s":43,"t":62,"y":1.85},{"s":43,"t":66.5,"y":1.35},{"s":43,"t":70.5,"y":0.55},
{"s":44,"t":7.2,"y":2.06},{"s":44,"t":12,"y":2.0},{"s":44,"t":20,"y":1.7},{"s":44,"t":30,"y":1.55},{"s":44,"t":42,"y":1.5},{"s":44,"t":55,"y":1.55},{"s":44,"t":66,"y":1.6},{"s":44,"t":76,"y":1.58},
{"s":45,"t":8,"y":2.8},{"s":45,"t":13,"y":2.42},{"s":45,"t":19,"y":2.14},{"s":45,"t":27,"y":2.01},{"s":45,"t":36,"y":1.96},{"s":45,"t":45,"y":1.98},{"s":45,"t":54,"y":1.9},{"s":45,"t":63,"y":1.92},{"s":45,"t":71,"y":1.85},{"s":45,"t":76,"y":1.87},
{"s":46,"t":6.8,"y":3.1},{"s":46,"t":9,"y":2.9},{"s":46,"t":14,"y":2.52},{"s":46,"t":21,"y":2.2},{"s":46,"t":31,"y":2.08},{"s":46,"t":42,"y":2.06},{"s":46,"t":53,"y":2.0},{"s":46,"t":64,"y":2.02},{"s":46,"t":74,"y":1.94},
{"s":47,"t":8,"y":2.92},{"s":47,"t":13,"y":2.58},{"s":47,"t":19,"y":2.32},{"s":47,"t":27,"y":2.2},{"s":47,"t":36,"y":2.16},{"s":47,"t":45,"y":2.18},{"s":47,"t":54,"y":2.1},{"s":47,"t":63,"y":2.12},{"s":47,"t":71,"y":2.05},{"s":47,"t":76,"y":2.07},
{"s":48,"t":6.8,"y":3.18},{"s":48,"t":9,"y":3.0},{"s":48,"t":14,"y":2.66},{"s":48,"t":21,"y":2.38},{"s":48,"t":31,"y":2.26},{"s":48,"t":42,"y":2.24},{"s":48,"t":53,"y":2.18},{"s":48,"t":64,"y":2.2},{"s":48,"t":74,"y":2.12},
{"s":49,"t":8,"y":3.35},{"s":49,"t":13,"y":2.88},{"s":49,"t":19,"y":2.52},{"s":49,"t":27,"y":2.36},{"s":49,"t":36,"y":2.31},{"s":49,"t":45,"y":2.33},{"s":49,"t":54,"y":2.25},{"s":49,"t":63,"y":2.28},{"s":49,"t":71,"y":2.2},{"s":49,"t":76,"y":2.22},
{"s":50,"t":6.8,"y":3.1},{"s":50,"t":9,"y":2.96},{"s":50,"t":14,"y":2.7},{"s":50,"t":21,"y":2.47},{"s":50,"t":31,"y":2.38},{"s":50,"t":42,"y":2.36},{"s":50,"t":53,"y":2.3},{"s":50,"t":64,"y":2.32},{"s":50,"t":74,"y":2.24},
{"s":51,"t":8,"y":3.3},{"s":51,"t":13,"y":2.9},{"s":51,"t":19,"y":2.6},{"s":51,"t":27,"y":2.46},{"s":51,"t":36,"y":2.41},{"s":51,"t":45,"y":2.43},{"s":51,"t":54,"y":2.35},{"s":51,"t":63,"y":2.38},{"s":51,"t":71,"y":2.3},{"s":51,"t":76,"y":2.32},
{"s":52,"t":6.8,"y":3.6},{"s":52,"t":9,"y":3.38},{"s":52,"t":14,"y":2.96},{"s":52,"t":21,"y":2.61},{"s":52,"t":31,"y":2.48},{"s":52,"t":42,"y":2.46},{"s":52,"t":53,"y":2.4},{"s":52,"t":64,"y":2.42},{"s":52,"t":74,"y":2.34},
{"s":53,"t":8,"y":3.25},{"s":53,"t":13,"y":2.92},{"s":53,"t":19,"y":2.66},{"s":53,"t":27,"y":2.55},{"s":53,"t":36,"y":2.5},{"s":53,"t":45,"y":2.52},{"s":53,"t":54,"y":2.44},{"s":53,"t":63,"y":2.46},{"s":53,"t":71,"y":2.39},{"s":53,"t":76,"y":2.41},
{"s":54,"t":6.8,"y":3.48},{"s":54,"t":9,"y":3.3},{"s":54,"t":14,"y":2.96},{"s":54,"t":21,"y":2.67},{"s":54,"t":31,"y":2.56},{"s":54,"t":42,"y":2.54},{"s":54,"t":53,"y":2.48},{"s":54,"t":64,"y":2.5},{"s":54,"t":74,"y":2.42},
{"s":55,"t":8,"y":3.57},{"s":55,"t":13,"y":3.12},{"s":55,"t":19,"y":2.78},{"s":55,"t":27,"y":2.63},{"s":55,"t":36,"y":2.58},{"s":55,"t":45,"y":2.6},{"s":55,"t":54,"y":2.52},{"s":55,"t":63,"y":2.54},{"s":55,"t":71,"y":2.47},{"s":55,"t":76,"y":2.49},
{"s":56,"t":6.8,"y":3.31},{"s":56,"t":9,"y":3.18},{"s":56,"t":14,"y":2.93},{"s":56,"t":21,"y":2.72},{"s":56,"t":31,"y":2.64},{"s":56,"t":42,"y":2.62},{"s":56,"t":53,"y":2.56},{"s":56,"t":64,"y":2.58},{"s":56,"t":74,"y":2.5},
{"s":57,"t":8,"y":3.51},{"s":57,"t":13,"y":3.14},{"s":57,"t":19,"y":2.84},{"s":57,"t":27,"y":2.71},{"s":57,"t":36,"y":2.66},{"s":57,"t":45,"y":2.68},{"s":57,"t":54,"y":2.6},{"s":57,"t":63,"y":2.62},{"s":57,"t":71,"y":2.55},{"s":57,"t":76,"y":2.57},
{"s":58,"t":6.8,"y":3.74},{"s":58,"t":9,"y":3.54},{"s":58,"t":14,"y":3.16},{"s":58,"t":21,"y":2.84},{"s":58,"t":31,"y":2.72},{"s":58,"t":42,"y":2.7},{"s":58,"t":53,"y":2.64},{"s":58,"t":64,"y":2.66},{"s":58,"t":74,"y":2.58},
{"s":59,"t":8,"y":3.54},{"s":59,"t":13,"y":3.18},{"s":59,"t":19,"y":2.91},{"s":59,"t":27,"y":2.79},{"s":59,"t":36,"y":2.74},{"s":59,"t":45,"y":2.76},{"s":59,"t":54,"y":2.68},{"s":59,"t":63,"y":2.7},{"s":59,"t":71,"y":2.63},{"s":59,"t":76,"y":2.65},
{"s":60,"t":6.8,"y":3.72},{"s":60,"t":9,"y":3.54},{"s":60,"t":14,"y":3.2},{"s":60,"t":21,"y":2.91},{"s":60,"t":31,"y":2.8},{"s":60,"t":42,"y":2.78},{"s":60,"t":53,"y":2.72},{"s":60,"t":64,"y":2.74},{"s":60,"t":74,"y":2.66},
{"s":61,"t":8,"y":3.9},{"s":61,"t":13,"y":3.41},{"s":61,"t":19,"y":3.04},{"s":61,"t":27,"y":2.87},{"s":61,"t":36,"y":2.82},{"s":61,"t":45,"y":2.84},{"s":61,"t":54,"y":2.76},{"s":61,"t":63,"y":2.78},{"s":61,"t":71,"y":2.71},{"s":61,"t":76,"y":2.73},
{"s":62,"t":6.8,"y":3.65},{"s":62,"t":9,"y":3.5},{"s":62,"t":14,"y":3.22},{"s":62,"t":21,"y":2.98},{"s":62,"t":31,"y":2.88},{"s":62,"t":42,"y":2.86},{"s":62,"t":53,"y":2.8},{"s":62,"t":64,"y":2.82},{"s":62,"t":74,"y":2.74},
{"s":63,"t":8,"y":3.81},{"s":63,"t":13,"y":3.4},{"s":63,"t":19,"y":3.09},{"s":63,"t":27,"y":2.96},{"s":63,"t":36,"y":2.91},{"s":63,"t":45,"y":2.93},{"s":63,"t":54,"y":2.85},{"s":63,"t":63,"y":2.87},{"s":63,"t":71,"y":2.8},{"s":63,"t":76,"y":2.82},
{"s":64,"t":6.8,"y":3.8},{"s":64,"t":9,"y":3.64},{"s":64,"t":14,"y":3.34},{"s":64,"t":21,"y":3.08},{"s":64,"t":31,"y":2.98},{"s":64,"t":42,"y":2.96},{"s":64,"t":53,"y":2.9},{"s":64,"t":64,"y":2.92},{"s":64,"t":74,"y":2.84},
{"s":65,"t":8,"y":3.96},{"s":65,"t":13,"y":3.54},{"s":65,"t":19,"y":3.21},{"s":65,"t":27,"y":3.07},{"s":65,"t":36,"y":3.02},{"s":65,"t":45,"y":3.04},{"s":65,"t":54,"y":2.96},{"s":65,"t":63,"y":2.98},{"s":65,"t":71,"y":2.91},{"s":65,"t":76,"y":2.93},
{"s":66,"t":6.8,"y":3.82},{"s":66,"t":9,"y":3.68},{"s":66,"t":14,"y":3.42},{"s":66,"t":21,"y":3.19},{"s":66,"t":31,"y":3.1},{"s":66,"t":42,"y":3.08},{"s":66,"t":53,"y":3.02},{"s":66,"t":64,"y":3.04},{"s":66,"t":74,"y":2.96},
{"s":67,"t":8,"y":4.01},{"s":67,"t":13,"y":3.63},{"s":67,"t":19,"y":3.34},{"s":67,"t":27,"y":3.21},{"s":67,"t":36,"y":3.16},{"s":67,"t":45,"y":3.18},{"s":67,"t":54,"y":3.1},{"s":67,"t":63,"y":3.12},{"s":67,"t":71,"y":3.05},{"s":67,"t":76,"y":3.07},
{"s":68,"t":6.8,"y":4.18},{"s":68,"t":9,"y":4.0},{"s":68,"t":14,"y":3.66},{"s":68,"t":21,"y":3.37},{"s":68,"t":31,"y":3.26},{"s":68,"t":42,"y":3.24},{"s":68,"t":53,"y":3.18},{"s":68,"t":64,"y":3.2},{"s":68,"t":74,"y":3.12},
{"s":69,"t":8,"y":4.12},{"s":69,"t":13,"y":3.78},{"s":69,"t":19,"y":3.49},{"s":69,"t":27,"y":3.37},{"s":69,"t":36,"y":3.32},{"s":69,"t":45,"y":3.34},{"s":69,"t":54,"y":3.26},{"s":69,"t":63,"y":3.28},{"s":69,"t":71,"y":3.21},{"s":69,"t":76,"y":3.23},
{"s":70,"t":6.8,"y":3.53},{"s":70,"t":9,"y":3.3},{"s":70,"t":14,"y":2.86},{"s":70,"t":21,"y":2.5},{"s":70,"t":31,"y":2.36},{"s":70,"t":42,"y":2.34},{"s":70,"t":53,"y":2.28},{"s":70,"t":64,"y":2.3},{"s":70,"t":74,"y":2.22},
{"s":71,"t":8,"y":3.09},{"s":71,"t":13,"y":2.82},{"s":71,"t":19,"y":2.62},{"s":71,"t":27,"y":2.53},{"s":71,"t":36,"y":2.48},{"s":71,"t":45,"y":2.5},{"s":71,"t":54,"y":2.42},{"s":71,"t":63,"y":2.44},{"s":71,"t":71,"y":2.37},{"s":71,"t":76,"y":2.39},
{"s":72,"t":6.8,"y":3.44},{"s":72,"t":9,"y":3.28},{"s":72,"t":14,"y":2.98},{"s":72,"t":21,"y":2.72},{"s":72,"t":31,"y":2.62},{"s":72,"t":42,"y":2.6},{"s":72,"t":53,"y":2.54},{"s":72,"t":64,"y":2.56},{"s":72,"t":74,"y":2.48},
{"s":73,"t":8,"y":3.76},{"s":73,"t":13,"y":3.29},{"s":73,"t":19,"y":2.93},{"s":73,"t":27,"y":2.77},{"s":73,"t":36,"y":2.72},{"s":73,"t":45,"y":2.74},{"s":73,"t":54,"y":2.66},{"s":73,"t":63,"y":2.68},{"s":73,"t":71,"y":2.61},{"s":73,"t":76,"y":2.63},
{"s":74,"t":6.8,"y":3.75},{"s":74,"t":9,"y":3.58},{"s":74,"t":14,"y":3.26},{"s":74,"t":21,"y":2.99},{"s":74,"t":31,"y":2.88},{"s":74,"t":42,"y":2.86},{"s":74,"t":53,"y":2.8},{"s":74,"t":64,"y":2.82},{"s":74,"t":74,"y":2.74}
],
"m16": [{"t":6.6,"y":3.55},{"t":9,"y":3.4},{"t":11,"y":3.26},{"t":13,"y":3.14},{"t":15,"y":3.03},{"t":17,"y":2.93},{"t":19,"y":2.85},{"t":21,"y":2.79},{"t":23,"y":2.75},{"t":26,"y":2.72},{"t":30,"y":2.71},{"t":40,"y":2.69},{"t":53,"y":2.67},{"t":65,"y":2.64},{"t":77,"y":2.61}],
"m18": [{"t":6.6,"y":3.47},{"t":9,"y":3.32},{"t":11,"y":3.19},{"t":13,"y":3.08},{"t":15,"y":2.98},{"t":17,"y":2.88},{"t":19,"y":2.8},{"t":21,"y":2.74},{"t":23,"y":2.69},{"t":26,"y":2.65},{"t":30,"y":2.63},{"t":40,"y":2.6},{"t":53,"y":2.56},{"t":65,"y":2.52},{"t":77,"y":2.49}],
"c16": [{"t":6.4,"y":1.48},{"t":76.9,"y":1.48}],
"c18": [{"t":6.4,"y":1.36},{"t":76.9,"y":1.36}]
},
"spacing": 238.3,
"bounds": "flush",
"vconcat": [
{
 "width": 738, "height": 214.4,
 "title": {"text": "HPV−16"},
 "resolve": {"axis": {"x": "independent"}},
 "layer": [
  {"data": {"name": "s16"}, "mark": {"type": "line", "strokeDash": [5, 4], "strokeWidth": 1.3, "color": "black", "clip": true},
   "encoding": {
    "x": {"field": "t", "type": "quantitative", "scale": {"domain": [-3.2, 81.95], "nice": false, "zero": false},
      "axis": {"values": [0,5,10,15,20,25,30,35,40,45,50,55,60,65,70,75,80], "title": "Months Since dose 1", "labelPadding": 16, "titlePadding": 28, "titleX": 374}},
    "y": {"field": "y", "type": "quantitative", "scale": {"domain": [-0.2, 5.2], "nice": false, "zero": false},
      "axis": {"values": [0,1,2,3,4,5], "title": "Anti−HPV−16 titers log(EU/ml)", "labelAngle": 270, "labelAlign": "center", "labelPadding": 11, "titlePadding": 31}},
    "detail": {"field": "s", "type": "nominal"}}},
  {"data": {"name": "m16"}, "mark": {"type": "line", "color": "#FF0000", "strokeWidth": 4, "interpolate": "monotone"},
   "encoding": {"x": {"field": "t", "type": "quantitative", "axis": {"orient": "top", "labels": false, "ticks": false, "title": null, "grid": false}}, "y": {"field": "y", "type": "quantitative"}}},
  {"data": {"name": "c16"}, "mark": {"type": "line", "color": "black", "strokeWidth": 2.5},
   "encoding": {"x": {"field": "t", "type": "quantitative", "axis": null}, "y": {"field": "y", "type": "quantitative"}}}
 ]
},
{
 "width": 738, "height": 214.4,
 "title": {"text": "HPV−18"},
 "resolve": {"axis": {"x": "independent"}},
 "layer": [
  {"data": {"name": "s18"}, "mark": {"type": "line", "strokeDash": [5, 4], "strokeWidth": 1.3, "color": "black", "clip": true},
   "encoding": {
    "x": {"field": "t", "type": "quantitative", "scale": {"domain": [-3.2, 81.95], "nice": false, "zero": false},
      "axis": {"values": [0,5,10,15,20,25,30,35,40,45,50,55,60,65,70,75,80], "title": "Months Since dose 1", "labelPadding": 16, "titlePadding": 28, "titleX": 374}},
    "y": {"field": "y", "type": "quantitative", "scale": {"domain": [-0.2, 5.2], "nice": false, "zero": false},
      "axis": {"values": [0,1,2,3,4,5], "title": "Anti−HPV−18 titers log(EU/ml)", "labelAngle": 270, "labelAlign": "center", "labelPadding": 11, "titlePadding": 31}},
    "detail": {"field": "s", "type": "nominal"}}},
  {"data": {"name": "m18"}, "mark": {"type": "line", "color": "#FF0000", "strokeWidth": 4, "interpolate": "monotone"},
   "encoding": {"x": {"field": "t", "type": "quantitative", "axis": {"orient": "top", "labels": false, "ticks": false, "title": null, "grid": false}}, "y": {"field": "y", "type": "quantitative"}}},
  {"data": {"name": "c18"}, "mark": {"type": "line", "color": "black", "strokeWidth": 2.5},
   "encoding": {"x": {"field": "t", "type": "quantitative", "axis": null}, "y": {"field": "y", "type": "quantitative"}}}
 ]
}
]
}
